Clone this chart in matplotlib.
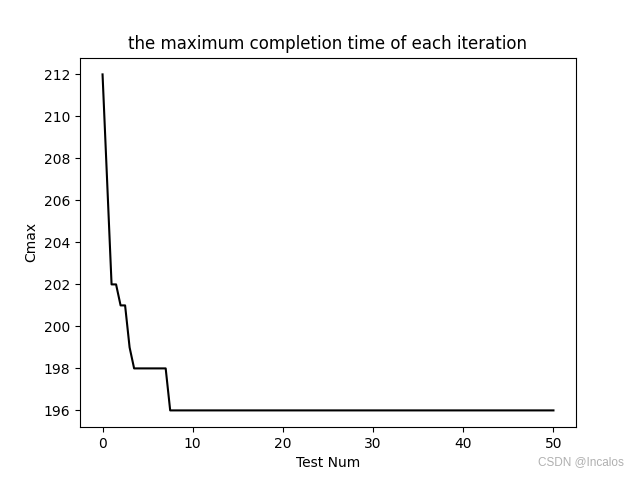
import matplotlib
matplotlib.use("Agg")
import matplotlib.pyplot as plt
import numpy as np

# iteration index (half steps), Cmax per iteration
test_num = np.arange(0, 50.5, 0.5)
cmax = [212, 207, 202, 202, 201, 201, 199, 198,
        198, 198, 198, 198, 198, 198, 198] + [196] * 86

fig = plt.figure(figsize=(6.4, 4.8), dpi=100)
ax = fig.add_subplot(1, 1, 1)
ax.plot(test_num, cmax, color='black')
ax.set_title('the maximum completion time of each iteration')
ax.set_xlabel('Test Num')
ax.set_ylabel('Cmax')

fig.text(0.975, 0.025, 'CSDN @Incalos', ha='right', va='bottom',
         color='#b0b0b0', fontsize=8.5, family='Liberation Sans')

fig.savefig('out.png')
